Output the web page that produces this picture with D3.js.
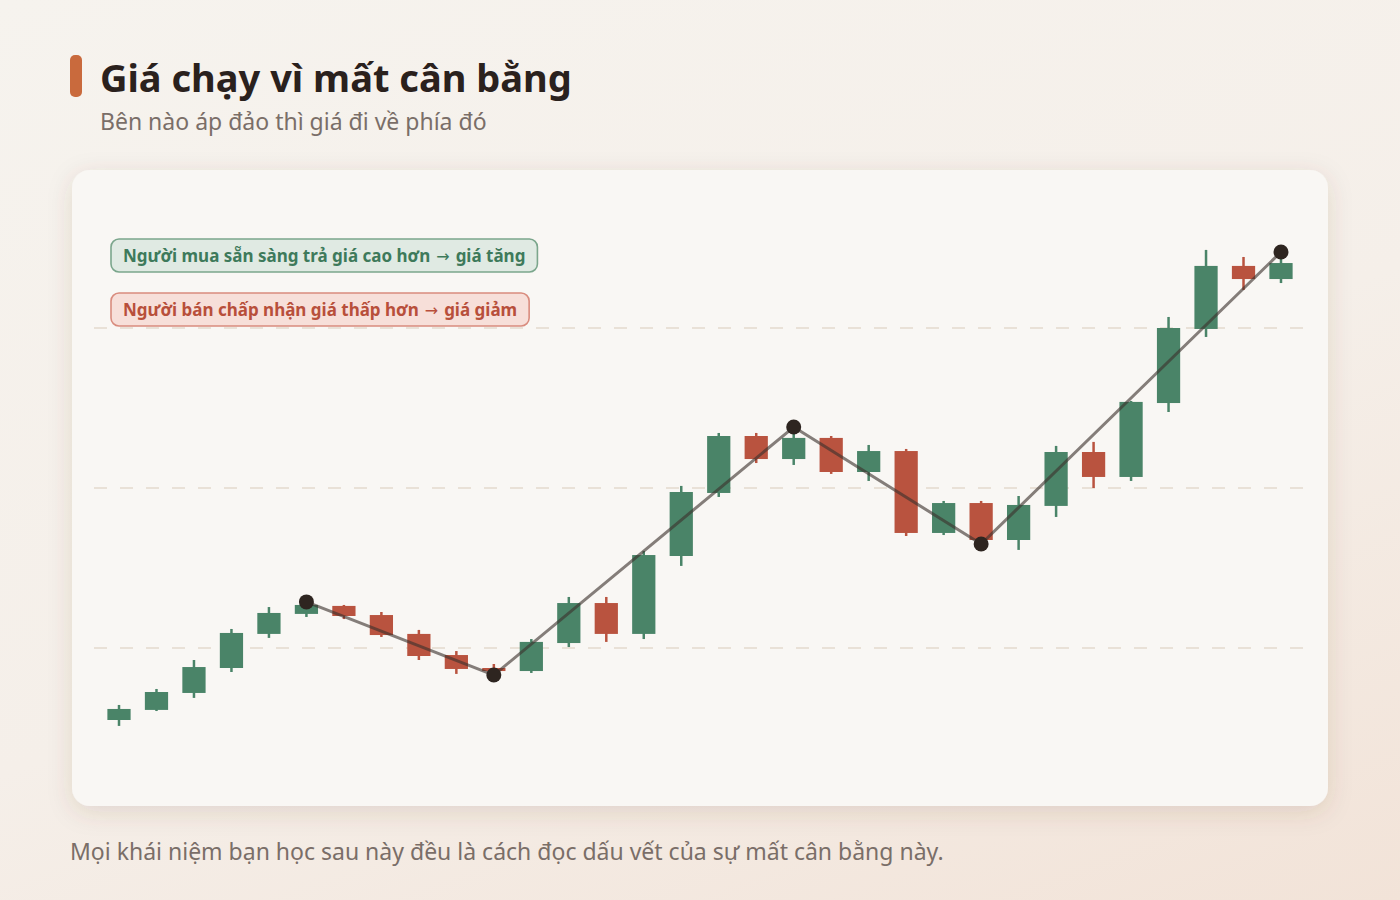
<!DOCTYPE html>
<html lang="vi">
<head>
<meta charset="utf-8">
<script src="https://cdn.jsdelivr.net/npm/d3@7"></script>
<style>
  html, body { margin: 0; padding: 0; }
  body { width: 1400px; height: 900px; overflow: hidden;
         background: linear-gradient(160deg, #f6f3ee 0%, #f5efe9 55%, #f2e3d8 100%); }
  svg { display: block; }
</style>
</head>
<body>
<svg id="chart" width="1400" height="900"></svg>
<script>
// ---------- DATA ----------
const titleText = "Giá chạy vì mất cân bằng";
const subtitleText = "Bên nào áp đảo thì giá đi về phía đó";
const footerText = "Mọi khái niệm bạn học sau này đều là cách đọc dấu vết của sự mất cân bằng này.";
const legendLabels = ["Người mua sẵn sàng trả giá cao hơn → giá tăng",
                      "Người bán chấp nhận giá thấp hơn → giá giảm"];

const openVals  = [95.50, 96.13, 97.19, 98.75, 100.88, 102.13, 102.63, 102.06, 100.88, 99.56, 98.75,
                   98.56, 100.31, 102.81, 100.88, 105.75, 109.69, 113.25, 111.81, 113.13, 111.00, 112.31,
                   107.19, 109.06, 106.75, 108.88, 112.25, 110.69, 115.31, 119.94, 123.88, 123.06];
const highVals  = [96.44, 97.44, 99.25, 101.19, 102.56, 102.88, 102.69, 102.25, 101.13, 99.81, 99.00,
                   100.56, 103.19, 103.19, 106.06, 110.13, 113.44, 113.44, 113.81, 113.25, 112.69, 112.44,
                   109.19, 109.19, 109.50, 112.63, 112.88, 115.44, 120.69, 124.88, 124.44, 124.75];
const lowVals   = [95.13, 96.06, 96.88, 98.50, 100.63, 101.94, 101.81, 100.69, 99.25, 98.38, 98.31,
                   98.44, 100.06, 100.38, 100.56, 105.13, 109.44, 111.56, 111.44, 110.88, 110.44, 107.00,
                   107.06, 106.50, 106.13, 108.19, 110.00, 110.44, 114.75, 119.44, 122.38, 122.81];
const closeVals = [96.19, 97.25, 98.81, 100.94, 102.19, 102.69, 102.00, 100.81, 99.50, 98.69, 98.56,
                   100.38, 102.81, 100.88, 105.81, 109.75, 113.25, 111.81, 113.13, 111.00, 112.31, 107.19,
                   109.06, 106.75, 108.94, 112.25, 110.69, 115.38, 120.00, 123.88, 123.06, 124.06];

// swing points: candle index and which extreme
const swingIndex = [5, 10, 18, 23, 31];
const swingType  = ["high", "low", "high", "low", "high"];

const gridValues = [100, 110, 120];

// ---------- STYLE ----------
const GREEN = "#4a8468", RED = "#b9533f";

const svg = d3.select("#chart");
const defs = svg.append("defs");
const f = defs.append("filter").attr("id", "cardShadow")
  .attr("x", "-10%").attr("y", "-10%").attr("width", "120%").attr("height", "130%");
f.append("feDropShadow").attr("dx", 0).attr("dy", 6).attr("stdDeviation", 12)
  .attr("flood-color", "#6b4a33").attr("flood-opacity", 0.14);

// header
svg.append("rect").attr("x", 70).attr("y", 55).attr("width", 12).attr("height", 42)
  .attr("rx", 5).attr("fill", "#c96a3d");
svg.append("text").attr("x", 100).attr("y", 92)
  .attr("font-family", "'Noto Sans', sans-serif").attr("font-weight", 700)
  .attr("font-size", 38).attr("fill", "#2a211d").text(titleText);
svg.append("text").attr("x", 100).attr("y", 130)
  .attr("font-family", "'Noto Sans', sans-serif").attr("font-size", 23)
  .attr("fill", "#7a6e68").text(subtitleText);

// card
svg.append("rect").attr("x", 72).attr("y", 170).attr("width", 1256).attr("height", 636)
  .attr("rx", 18).attr("fill", "#f9f7f4").attr("filter", "url(#cardShadow)");

// scales
const idx = d3.range(openVals.length);
const x = d3.scaleBand().domain(idx).range([100.26, 1299.74]).paddingInner(0.38).paddingOuter(0.19);
const y = d3.scaleLinear().domain([94.25, 125.5]).range([740, 240]);
const cx = i => x(i) + x.bandwidth() / 2;

// gridlines
svg.append("g").selectAll("line").data(gridValues).join("line")
  .attr("x1", 94).attr("x2", 1304)
  .attr("y1", d => y(d)).attr("y2", d => y(d))
  .attr("stroke", "#e9e1d7").attr("stroke-width", 2).attr("stroke-dasharray", "13,13");

// candles
const candles = svg.append("g").selectAll("g").data(idx).join("g")
  .attr("fill", i => closeVals[i] >= openVals[i] ? GREEN : RED)
  .attr("stroke", i => closeVals[i] >= openVals[i] ? GREEN : RED);
candles.append("line")
  .attr("x1", i => cx(i)).attr("x2", i => cx(i))
  .attr("y1", i => y(highVals[i])).attr("y2", i => y(lowVals[i]))
  .attr("stroke-width", 2.5);
candles.append("rect")
  .attr("x", i => x(i)).attr("width", x.bandwidth())
  .attr("y", i => y(Math.max(openVals[i], closeVals[i])))
  .attr("height", i => Math.max(1, Math.abs(y(openVals[i]) - y(closeVals[i]))))
  .attr("stroke", "none");

// swing line
const swingPts = swingIndex.map((i, k) => [cx(i), y(swingType[k] === "high" ? highVals[i] : lowVals[i])]);
svg.append("path").attr("d", d3.line()(swingPts))
  .attr("fill", "none").attr("stroke", "#3b322d").attr("stroke-opacity", 0.62)
  .attr("stroke-width", 3).attr("stroke-linejoin", "round");
svg.append("g").selectAll("circle").data(swingPts).join("circle")
  .attr("cx", d => d[0]).attr("cy", d => d[1]).attr("r", 7.5).attr("fill", "#2e2520");

// legend badges
const badgeStyles = [
  { fill: "#e0eae3", stroke: "#7ba68c", text: "#3e7a5b", y: 239 },
  { fill: "#f7dfd9", stroke: "#d98c7e", text: "#b84f3b", y: 293 }
];
legendLabels.forEach((lab, k) => {
  const st = badgeStyles[k];
  const g = svg.append("g");
  const parts = lab.split("→").map(s => s.trim());
  const t = g.append("text").attr("x", 123).attr("y", st.y + 23)
    .attr("font-family", "'Noto Sans', sans-serif").attr("font-weight", 700)
    .attr("font-size", 17).attr("fill", st.text);
  t.append("tspan").text(parts[0]);
  t.append("tspan").attr("dx", 6).attr("font-family", "'DejaVu Sans', sans-serif").attr("font-weight", 400)
    .attr("font-size", 16).text("→");
  t.append("tspan").attr("dx", 6).text(parts[1]);
  const bb = t.node().getBBox();
  g.insert("rect", "text").attr("x", 111).attr("y", st.y).attr("width", bb.x + bb.width - 111 + 12).attr("height", 33)
    .attr("rx", 8).attr("fill", st.fill).attr("stroke", st.stroke).attr("stroke-width", 1.6);
});

// footer
svg.append("text").attr("x", 70).attr("y", 860)
  .attr("font-family", "'Noto Sans', sans-serif").attr("font-size", 23)
  .attr("fill", "#7a6e68").text(footerText);
</script>
</body>
</html>
